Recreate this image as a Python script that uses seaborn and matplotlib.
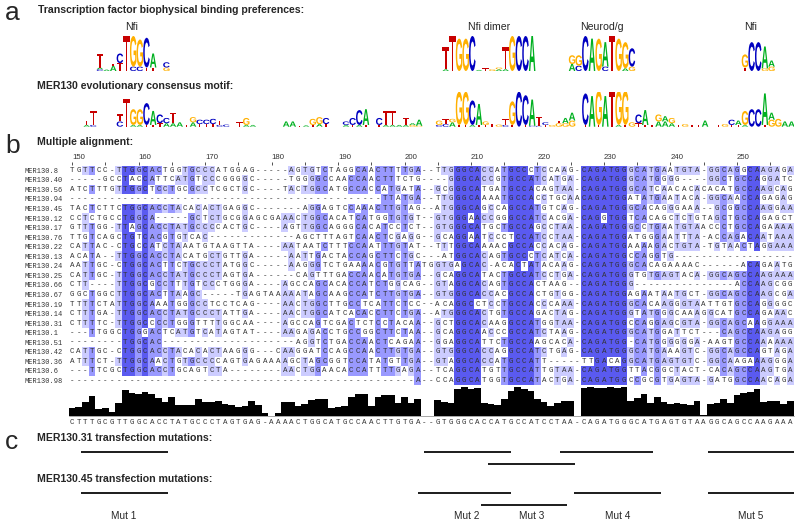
import numpy as np
import seaborn as sns
import matplotlib
matplotlib.use('Agg')
import matplotlib.pyplot as plt
from matplotlib.colors import ListedColormap
from matplotlib.font_manager import FontProperties
from matplotlib.patches import PathPatch
from matplotlib.textpath import TextPath
from matplotlib.transforms import Affine2D

names = ['MER130.8', 'MER130.40', 'MER130.56', 'MER130.94', 'MER130.45', 'MER130.12',
         'MER130.17', 'MER130.76', 'MER130.22', 'MER130.13', 'MER130.24', 'MER130.25',
         'MER130.66', 'MER130.67', 'MER130.19', 'MER130.14', 'MER130.31', 'MER130.1',
         'MER130.51', 'MER130.42', 'MER130.36', 'MER130.6', 'MER130.98']

seqs = [
    'TGTTCC-TTGGCACTGGTGCCCATGGAG--' + '---AGTGTCTAGGCAACTTTTGA--TTGGGCACCATGCCC' + 'TCCAAG-CAGATGGGCATGAATGTA-GGCAGGCAAGAGA',
    '-----GCCTACCATTCATGTCCCGGGGC--' + '---TGGGGCCAACCAACTTTCTG----GGGCACCGTGCCA' + 'TCATGA-CAGATGGGCATGGGG----GGCTGCCAGGATC',
    'ATCTTTGTTGGCTCCTGCGCCTCGCTGC--' + '--TACTGGCATGCCACCATGATA--GCGGGCATGATGCCA' + 'CAGTAA-CAGATGGGCATCAACACACACATGCCAAGCAG',
    '------------------------------' + '-----------------TTATGA--TTGGGCAAAATGCCA' + 'CCTGCAACAGATGGATATGAATACA-GGCAACCAGAGAG',
    'TACTCTTCTGGCACCTACACACTGAGGC--' + '-----AGGAGTCCAAACTTGTAG--ATGGGCAGCCAGCCA' + 'TGTCAG-CAGATGGGCACAGGGAAA--GCGGCCAAGGAA',
    'CCTCTGCCTGGCA-----GCTCTGCGGAGC' + 'GAAACTGGCACATCATGGTGTGT--GTGGGAACCGGGCCA' + 'TCACGA-CAGGTGGTCACAGCTCTGTAGCTGCCAGAGCT',
    'GTTTGG-TTAGCACCTATGCCCCACTGC--' + '--AGTTGGCAGGGCACATCCTCT--GTGGGCATGCTGCCA' + 'GCCTAA-CAGATGGGCCTGAATGTAACCCTGCCAGAAAA',
    'TTGTCAGCTGTCACGTGTCAC---------' + '----AGCTTTAGTCAACTCGAGG--GCAGGAATCCCTCCA' + 'TCCTAA-CAGATGGATGGGAATTTA-ACCAGACAATAAA',
    'CATTAC-CTGCCATCTAAATGTAAGTTA--' + '--AATAATCTTTCCAATTTGTAT--TTTGGCAAAACGCCA' + 'CCACAG-CAGATGGAAAAGACTGTA-TGTAACTAGGAAA',
    'ACATA--TTGGCACCTACATGCTGTTGA--' + '---AATTGACTACCAGCTTCTGC---ATGGCACAGTGCCC' + 'TCATCA-CAGATGGCCAGGTG------------------',
    'AATTGC-CTGGCACTTCTGCCCTATGGC--' + '---AAGGGTCTGAAAACGTGTTATGGTGAGCAC-ACACTA' + 'TACAAG-CAGATGGGCACAGAAAAC------ACAGAATG',
    'CATTGC-TTGGCACCTATGCCCTAGTGA--' + '----CAGTTTGACCAACATGTGA--GCAGGCATACTGCCA' + 'TCCTGA-CAGATGGGTGTGAGTACA-GGCAGCCAAGAAA',
    'CTT----TTGGCGCCTTTGTCCCTGGGA--' + '--AGCCAGCACACCATCTGGCAG--GTAGGCACAGTGCCA' + 'CTAAG--CAGATGGG---------------ACCAAGCGG',
    'GGCTGGCTTGGCACTTAAGC-----TGAGT' + 'AAAAATAGCAAGCCATCTTGTGA--GTGGGCACCACGCCA' + 'CTGTGG-CAGATGGAGAATAATGCT-GGCAGCCAAGCGA',
    'TTTTCTATTGGCAAATGGGCCTCCTCAG--' + '--AACTGGCTTGCCTCATTCTCC--ACAGGCCTCCTGCCA' + 'CCCAAA-CAGATGGGCACAAGGGTAATTGTGCCAGGGGC',
    'CTTTGA-TTGGCACCTATGCCCTATTGA--' + '--AACTGGCATCACACCTTCTGA--ATGGGCACTGTGCCA' + 'GACTAG-CAGATGGGTATGGGCAAAGGCATGCCAGAAAC',
    'CTTTTC-TTGGCCCCTGGGTTTTGGCAA--' + '--AGCCAGTCGACTCTCCTACAA--GCTGGCACAAGGCCA' + 'TGGTAA-CAGATGGCCAGGAGCGTA-GGCAGCAAGGAAA',
    '---TTGGCTGGGACTCATGTCATAGTAT--' + '--AAGAGACCTGCCGGCTTCTAA--GCAGGCAACCCGCCA' + 'TCTAAG-CAGATGGGCATGGATTCT---CAGCCAAGAGG',
    '--------TGGCAC----------------' + '----AGGTCTGACCAACTCAGAA--GGAGGCATTCTGCCA' + 'AGCACA-CAGATGG-CATGGGGGGA-AAGTGCCAAAAAA',
    'CATTGC-CTGGCACCTACACACTAAGGG--' + '-CAAGGATCCAGCCAACTTGTGA--GTGGGCACCAGGCCA' + 'TCTGAG-CAGATGGGCATGAAAGTC-GGCAGCCAGTAGA',
    'ATTTCT-TTGGCAACTGTGCCCCAGTGAGA' + 'AAAGCTAGCGGTCCATATGTTGA--GTAGGCACCATGCCA' + 'TT-----TTGACAGGCATGAGTGTC-GGCAAGAAAGGGA',
    '---TTCGCTGGCACCTGCAGTCTA------' + '--AACTGGAACACCATTTTGAGA--TCAGGCATGTTGCCA' + 'TTGTAA-CAGATGGTTACGGCTACT-CACAGCCAAGTGA',
    '------------------------------' + '----------------------A--CCAGGCATGGTGCCA' + 'TACTGA-CAGATGGCCGCGTGAGTA-GATGGCCAACAGA',
]

consensus = ('CTTTGCGTTGGCACCTATGCCCTAGTGAG-' + 'AAAACTGGCATGCCAACTTGTGA--GTGGGCACCATGCCA'
             + 'TCCTAA-CAGATGGGCATGAGTGTAAGGCAGCCAAGAAA')

conservation = [26, 28, 43, 62, 21, 25, 13, 41, 78, 71, 67, 74, 67, 56, 43, 58, 35, 35, 35, 51,
                43, 43, 46, 36, 33, 29, 32, 46, 33, 9, 2, 9, 43, 43, 32, 36, 48, 51, 51, 26,
                28, 32, 57, 67, 67, 32, 57, 63, 63, 40, 57, 41, 52, 0, 0, 48, 43, 41, 81, 88,
                81, 84, 41, 37, 34, 51, 76, 87, 83, 77, 52, 43, 32, 41, 47, 47, 0, 85, 88, 85,
                85, 88, 85, 88, 47, 56, 67, 41, 58, 43, 37, 41, 37, 35, 47, 5, 36, 41, 52, 41,
                63, 69, 72, 83, 43, 47, 47, 36, 47]

tick_positions = list(range(150, 259, 5))

# logo columns: alignment column, then letters from the bottom up with height in bits
logo_nfi = [(4, [('C', .1), ('A', .1), ('T', .75)]), (5, [('A', .08)]),
            (6, [('A', .3), ('T', .1)]), (7, [('T', .45), ('C', .55)]), (8, [('T', 2.0)]),
            (9, [('C', .25), ('G', 1.75)]), (10, [('C', .25), ('G', 1.55)]),
            (11, [('T', .2), ('C', 1.7)]), (12, [('T', .2), ('A', .8)]),
            (14, [('G', .2), ('C', .3)])]
logo_dimer = [(56, [('A', .1), ('T', 1.25)]), (57, [('T', 2.0)]), (58, [('G', 1.85)]),
              (59, [('G', 1.85)]), (60, [('C', 2.0)]), (61, [('A', .06)]), (62, [('T', .15)]),
              (63, [('G', .1)]), (64, [('A', .1), ('G', .1)]), (65, [('A', .1), ('T', 1.25)]),
              (66, [('G', 2.0)]), (67, [('C', 2.0)]), (68, [('C', 2.0)]), (69, [('A', 2.0)])]
logo_neurod = [(75, [('A', .4), ('G', .5)]), (76, [('C', .3), ('G', .6)]), (77, [('C', 2.0)]),
               (78, [('A', 1.85)]), (79, [('G', 1.85)]), (80, [('C', .25), ('A', 1.4)]),
               (81, [('T', 2.0)]), (82, [('G', 1.85)]), (83, [('A', .15), ('G', 1.5)]),
               (84, [('G', .25), ('C', 1.05)])]
logo_nfi2 = [(101, [('T', .2), ('G', .75)]), (102, [('C', 1.65)]), (103, [('C', 1.65)]),
             (104, [('G', .15), ('A', 1.25)]), (105, [('G', .25), ('A', .35)])]

logo_evo = [(2, [('A', .1), ('T', .25)]), (3, [('C', .1), ('T', .8)]),
            (7, [('C', .3), ('T', .4)]), (8, [('T', 1.6)]), (9, [('A', .1), ('G', .9)]),
            (10, [('A', .1), ('G', .9)]), (11, [('T', .1), ('C', 1.25)]), (12, [('T', .1), ('A', .8)]),
            (13, [('T', .2), ('C', .5)]), (14, [('A', .2), ('C', .3)]), (15, [('A', .2), ('T', .6)]),
            (16, [('A', .25)]), (17, [('T', .1)]), (18, [('A', .25), ('G', .3)]),
            (19, [('T', .15), ('C', .25)]), (20, [('T', .15), ('C', .25)]), (21, [('T', .15), ('C', .3)]),
            (22, [('C', .1), ('T', .25)]), (23, [('C', .12)]), (25, [('T', .25)]),
            (26, [('A', .1), ('G', .4)]), (27, [('A', .1)]), (32, [('A', .3)]), (33, [('A', .3)]),
            (34, [('T', .06)]), (35, [('A', .08)]), (36, [('T', .1), ('G', .35)]),
            (37, [('A', .15), ('G', .4)]), (38, [('T', .15), ('C', .35)]), (41, [('A', .1), ('C', .2)]),
            (42, [('T', .1), ('C', .4)]), (43, [('A', .1), ('C', .85)]), (44, [('T', .1), ('A', .9)]),
            (46, [('T', .1), ('C', .4)]), (47, [('A', .1), ('T', .8)]), (48, [('A', .1), ('T', .8)]),
            (49, [('A', .1)]), (50, [('A', .1), ('T', .4)]), (51, [('G', .1), ('A', .1)]),
            (52, [('G', .05), ('A', .35)]), (55, [('C', .1), ('G', .25)]), (56, [('C', .15), ('T', .3)]),
            (57, [('A', .25), ('G', .2)]), (58, [('T', .1), ('G', 1.9)]), (59, [('T', .1), ('G', 1.9)]),
            (60, [('A', .1), ('C', 1.4)]), (61, [('T', .1), ('A', 1.2)]), (62, [('T', .1), ('G', .2)]),
            (63, [('T', .15)]), (64, [('G', .12)]), (65, [('C', .1), ('T', .35)]),
            (66, [('T', .1), ('G', 1.35)]), (67, [('C', 2.0)]), (68, [('T', .1), ('C', 1.7)]),
            (69, [('C', .05), ('A', 1.5)]), (70, [('C', .05), ('T', .5)]), (71, [('T', .1), ('C', .15)]),
            (72, [('G', .1)]), (73, [('G', .2), ('T', .15)]), (74, [('G', .2), ('A', .3)]),
            (75, [('G', .35), ('A', .45)]), (77, [('T', .1), ('C', 1.8)]), (78, [('A', 1.75)]),
            (79, [('T', .1), ('G', 1.95)]), (80, [('A', 1.75)]), (81, [('T', 2.0)]),
            (82, [('A', .1), ('G', 1.95)]), (83, [('T', .1), ('G', 1.95)]), (84, [('G', .25)]),
            (85, [('T', .2), ('C', .5)]), (86, [('T', .1), ('A', .85)]), (87, [('T', .1)]),
            (88, [('A', .3), ('G', .4)]), (89, [('A', .3), ('A', .3)]), (90, [('A', .2), ('G', .3)]),
            (91, [('T', .1)]), (92, [('G', .15)]), (93, [('T', .12)]), (94, [('T', .12)]),
            (95, [('A', .35)]), (97, [('T', .1)]), (98, [('G', .15)]), (99, [('T', .1), ('C', .3)]),
            (100, [('T', .1), ('A', .25)]), (101, [('A', .1), ('G', .8)]), (102, [('C', 1.0)]),
            (103, [('C', 1.0)]), (104, [('T', .1), ('A', 1.8)]), (105, [('G', .4), ('A', .4)]),
            (106, [('G', .45)]), (107, [('A', .3)]), (108, [('A', .3)])]

# mutated stretches, in alignment columns (cell edges)
mut31_upper = [(1.9, 15.0), (53.4, 66.5), (73.9, 87.9), (96.2, 109.1)]
mut31_lower = [(63.0, 76.1)]
mut45_upper = [(1.9, 15.0), (52.5, 66.5), (76.0, 89.1), (96.2, 109.1)]
mut45_lower = [(62.0, 74.9)]
mut_labels = ['Mut 1', 'Mut 2', 'Mut 3', 'Mut 4', 'Mut 5']
mut_label_cols = [8.3, 59.9, 69.7, 82.5, 102.5]

W, H = 800, 525
LEFT, RIGHT = 68.7, 793.5
logo_colors = {'A': '#00b020', 'C': '#0000c0', 'G': '#ffb000', 'T': '#c80000'}
logo_font = FontProperties(family='Liberation Sans', weight='bold')

sns.set_theme(style='white')
plt.rcParams['font.family'] = ['Liberation Sans', 'DejaVu Sans']
fig = plt.figure(figsize=(8, 5.25), dpi=100)


def px_axes(top, bottom):
    a = fig.add_axes([LEFT / W, 1 - bottom / H, (RIGHT - LEFT) / W, (bottom - top) / H])
    a.patch.set_alpha(0)
    return a


def fig_text(x, y, s, **kw):
    fig.text(x / W, 1 - y / H, s, va='center', **kw)


def draw_logo(ax, columns):
    for col, stack in columns:
        base = 0
        for letter, h in stack:
            path = TextPath((0, 0), letter, size=1, prop=logo_font)
            box = path.get_extents()
            tr = (Affine2D().translate(-box.x0, -box.y0).scale(0.98 / box.width, h / box.height)
                  .translate(col + 0.2 - 0.49, base))
            ax.add_patch(PathPatch(path, transform=tr + ax.transData, fc=logo_colors[letter], lw=0))
            base += h
    ax.set_xlim(-0.5, 108.5)
    ax.set_ylim(0, 2)
    ax.axis('off')


# panel a
ax_top = px_axes(36, 71)
for motif in [logo_nfi, logo_dimer, logo_neurod, logo_nfi2]:
    draw_logo(ax_top, motif)
ax_evo = px_axes(91.7, 126.7)
draw_logo(ax_evo, logo_evo)

fig_text(5, 13, 'a', fontsize=19)
fig_text(38, 10, 'Transcription factor biophysical binding preferences:', fontsize=7.55, fontweight='bold')
fig_text(37, 86, 'MER130 evolutionary consensus motif:', fontsize=7.55, fontweight='bold')
for x, s in [(132, 'Nfi'), (489, 'Nfi dimer'), (602, 'Neurod/g'), (751, 'Nfi')]:
    fig_text(x, 27, s, fontsize=7.6, ha='center')

# panel b, percentage identity shading like Jalview
letters = np.array([list(s) for s in seqs])
cons = np.array(list(consensus))
levels = np.zeros(letters.shape, dtype=int)
for j in range(letters.shape[1]):
    if cons[j] == '-':
        continue
    pct = (letters[:, j] == cons[j]).mean() * 100
    level = 3 if pct > 80 else 2 if pct > 60 else 1 if pct > 40 else 0
    levels[letters[:, j] == cons[j], j] = level

ax = px_axes(165.5, 385.2)
sns.heatmap(levels, ax=ax, cmap=ListedColormap(['#ffffff', '#ccccff', '#9999ff', '#5a5af0']),
            vmin=0, vmax=3, cbar=False, annot=letters, fmt='',
            annot_kws={'fontsize': 5.4, 'family': 'Liberation Mono', 'color': '#333333'},
            xticklabels=False, yticklabels=False)
ax.xaxis.tick_top()
ax.set_xticks(np.array(tick_positions) - 150 + 0.5)
ax.set_xticklabels([str(p) if p % 10 == 0 else '' for p in tick_positions],
                   fontsize=5.6, ha='left', color='#333333')
ax.tick_params(axis='x', length=2.5, width=0.6, pad=0.5, color='#333333', top=True, bottom=False)
ax.set_yticks(np.arange(len(names)) + 0.5)
ax.set_yticklabels(names, fontsize=5, family='Liberation Mono', ha='left', color='#333333', rotation=0)
ax.tick_params(axis='y', length=0, pad=31.5, left=False)

fig_text(5, 146, 'b', fontsize=19)
fig_text(37, 142, 'Multiple alignment:', fontsize=7.55, fontweight='bold')

ax_bar = px_axes(386.3, 416.3)
sns.barplot(x=list(range(len(conservation))), y=conservation, color='black', saturation=1,
            width=1, linewidth=0, ax=ax_bar)
ax_bar.axhline(0, color='#999999', lw=0.6, clip_on=False)
ax_bar.set_xlim(-0.5, 108.5)
ax_bar.set_ylim(0, 90)
ax_bar.set_yticks([])
ax_bar.set_ylabel('')
ax_bar.set_xticks(range(len(consensus)))
ax_bar.set_xticklabels(list(consensus), fontsize=5.4, family='Liberation Mono', color='#333333')
ax_bar.tick_params(axis='x', length=0, pad=2)
sns.despine(ax=ax_bar, left=True, bottom=True)

# panel c
ax_c = px_axes(452, 505)
ax_c.set_xlim(0, 109)
ax_c.set_ylim(505, 452)
ax_c.axis('off')
for y, segs in [(452, mut31_upper), (464, mut31_lower), (493, mut45_upper), (505, mut45_lower)]:
    for start, end in segs:
        ax_c.plot([start, end], [y, y], color='black', lw=1.25, solid_capstyle='butt', clip_on=False)
for col, s in zip(mut_label_cols, mut_labels):
    ax_c.text(col, 516, s, fontsize=7.2, ha='center', va='center', clip_on=False)

fig_text(5, 442, 'c', fontsize=19)
fig_text(37, 438, 'MER130.31 transfection mutations:', fontsize=7.55, fontweight='bold')
fig_text(37, 479, 'MER130.45 transfection mutations:', fontsize=7.55, fontweight='bold')

fig.savefig('out.png', dpi=100)
